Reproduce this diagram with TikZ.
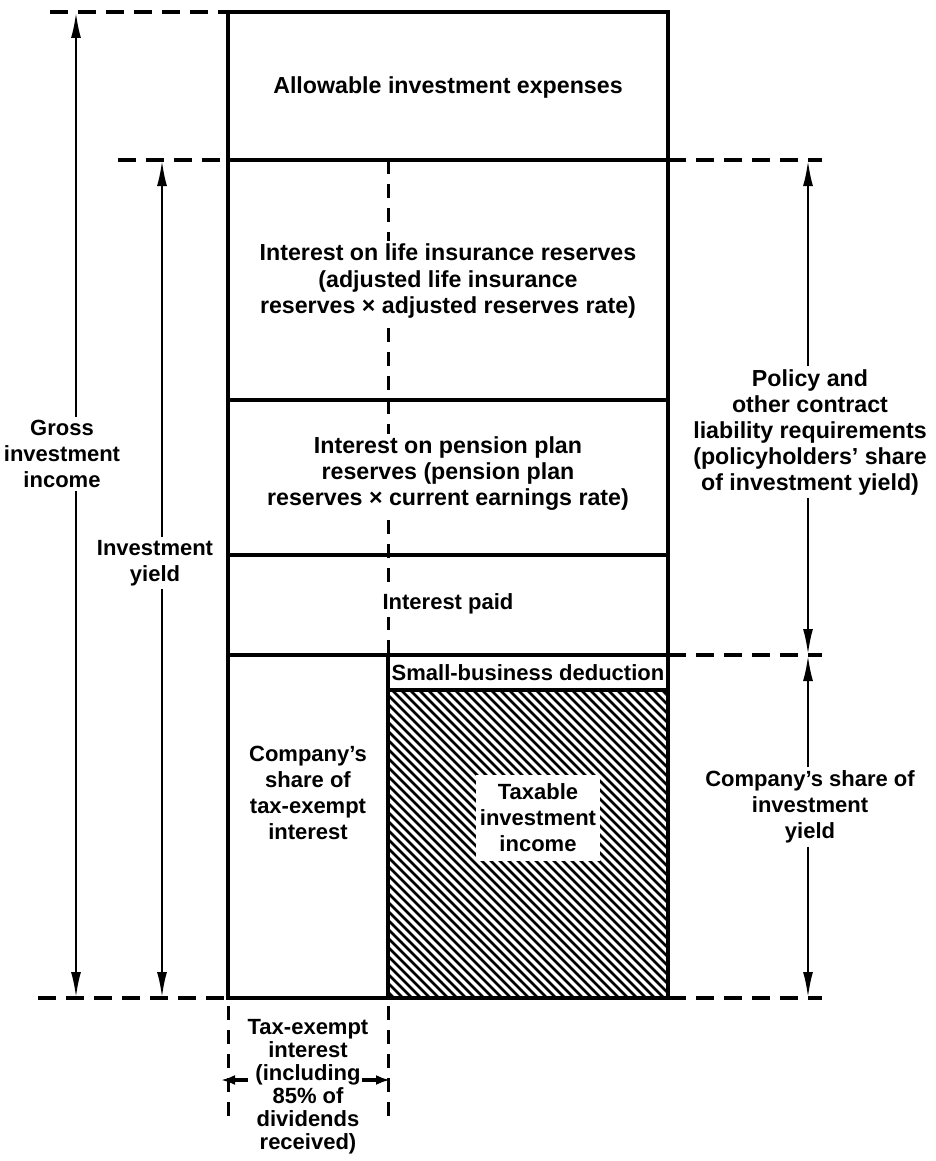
\documentclass[tikz,border=0pt]{standalone}
\usepackage{fontspec}
\setmainfont{Liberation Sans}
\usetikzlibrary{arrows.meta}
\begin{document}
\begin{tikzpicture}[x=0.5pt,y=-0.5pt,
  box/.style={line width=2pt},
  dline/.style={line width=2pt,dash pattern=on 9pt off 5pt},
  vdash/.style={line width=1.5pt,dash pattern=on 7pt off 5pt},
  arr/.style={line width=1.3pt,-{Latex[length=13pt,width=5pt]}},
  sarr/.style={line width=2pt,-{Latex[length=7pt,width=5pt]}},
  lbl/.style={font=\bfseries\fontsize{11}{13}\selectfont,align=center,inner sep=1.5pt},
  big/.style={font=\bfseries\fontsize{11.6}{13}\selectfont},
  wl/.style={lbl,fill=white}]
\useasboundingbox (0,0) rectangle (936,1161);
% hatched area
\begin{scope}
\clip (388,690) rectangle (668,998);
\foreach \i in {0,9,...,620} \draw[line width=1.3pt] (68+\i,690) -- ++(330,330);
\end{scope}
% main box
\draw[box] (228,12) rectangle (668,998);
\draw[box] (228,160) -- (668,160);
\draw[box] (228,400) -- (668,400);
\draw[box] (228,555) -- (668,555);
\draw[box] (228,655) -- (668,655);
\draw[box] (388,690) -- (668,690);
\draw[box] (388,655) -- (388,998);
% dashed vertical
\draw[vdash] (388,160) -- (388,655);
% dashed extensions
\draw[dline] (50,12) -- (228,12);
\draw[dline] (118,160) -- (228,160);
\draw[dline] (668,160) -- (822,160);
\draw[dline] (668,655) -- (822,655);
\draw[dline] (38,998) -- (228,998);
\draw[dline] (668,998) -- (822,998);
\draw[vdash] (228,1006) -- (228,1116);
\draw[vdash] (388,1006) -- (388,1116);
% texts in box
\node[lbl,big] (allow) at (448,88) {Allowable investment expenses};
\node[wl,big] (life) at (448,281) {Interest on life insurance reserves\\(adjusted life insurance\\reserves × adjusted reserves rate)};
\node[wl,big] (pension) at (448,474) {Interest on pension plan\\reserves (pension plan\\reserves × current earnings rate)};
\node[wl] (paid) at (448,604) {Interest paid};
\node[lbl] (small) at (528,673) {Small-business deduction};
\node[lbl,fill=white,minimum width=62pt,minimum height=43pt] (taxable) at (538,818) {Taxable\\investment\\income};
\node[lbl] (cshare) at (308,793) {Company’s\\share of\\tax-exempt\\interest};
\node[lbl,font=\bfseries\fontsize{11}{11.5}\selectfont] (taxex) at (308,1087) {Tax-exempt\\interest\\(including\\85\% of\\dividends\\received)};
% side labels
\node[wl] (gross) at (62,454) {Gross\\investment\\income};
\node[wl] (iyield) at (155,563) {Investment\\yield};
\node[wl,big] (policy) at (810,432) {Policy and\\other contract\\liability requirements\\(policyholders’ share\\of investment yield)};
\node[wl] (cyield) at (810,807) {Company’s share of\\investment\\yield};
% arrow end points
\coordinate (g1) at (76,12);
\coordinate (g2) at (76,998);
\coordinate (y1) at (162,160);
\coordinate (y2) at (162,998);
\coordinate (p1) at (808,160);
\coordinate (p2) at (808,655);
\coordinate (c1) at (808,655);
\coordinate (c2) at (808,998);
\coordinate (tl) at (221,1080);
\coordinate (tr) at (390,1080);
\coordinate (tls) at (248,1080);
\coordinate (trs) at (362,1080);
% arrows
\draw[arr] (gross.north -| g1) -- (g1);
\draw[arr] (gross.south -| g2) -- (g2);
\draw[arr] (iyield.north -| y1) -- (y1);
\draw[arr] (iyield.south -| y2) -- (y2);
\draw[arr] (policy.north -| p1) -- (p1);
\draw[arr] (policy.south -| p2) -- (p2);
\draw[arr] (cyield.north -| c1) -- (c1);
\draw[arr] (cyield.south -| c2) -- (c2);
\draw[sarr] (tls) -- (tl);
\draw[sarr] (trs) -- (tr);
\end{tikzpicture}
\end{document}
